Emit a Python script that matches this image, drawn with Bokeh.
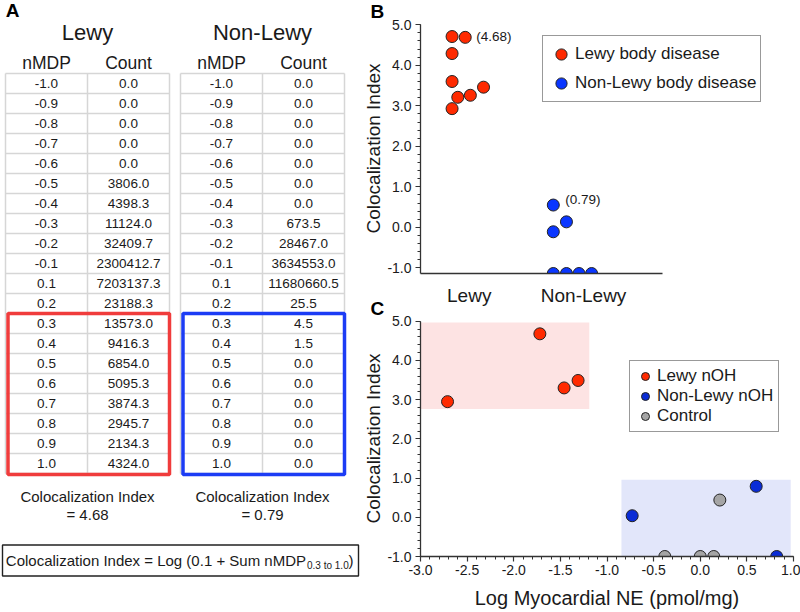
from bokeh.plotting import figure
from bokeh.models import Range1d, SingleIntervalTicker, FixedTicker, NumeralTickFormatter
from bokeh.layouts import row, column
from bokeh.core.properties import value
from bokeh.embed import file_html
from bokeh.resources import INLINE

FONT = "Liberation Sans"
TXT = "#1a1a1a"
AXC = "#333333"

# ---------------- Panel A data ----------------
NMDP = [-1.0, -0.9, -0.8, -0.7, -0.6, -0.5, -0.4, -0.3, -0.2, -0.1,
        0.1, 0.2, 0.3, 0.4, 0.5, 0.6, 0.7, 0.8, 0.9, 1.0]
LEWY_COUNT = [0.0, 0.0, 0.0, 0.0, 0.0, 3806.0, 4398.3, 11124.0, 32409.7, 2300412.7,
              7203137.3, 23188.3, 13573.0, 9416.3, 6854.0, 5095.3, 3874.3, 2945.7, 2134.3, 4324.0]
NONLEWY_COUNT = [0.0, 0.0, 0.0, 0.0, 0.0, 0.0, 0.0, 673.5, 28467.0, 3634553.0,
                 11680660.5, 25.5, 4.5, 1.5, 0.0, 0.0, 0.0, 0.0, 0.0, 0.0]
TABLE_NAMES = ["Lewy", "Non-Lewy"]
TABLE_CI = [4.68, 0.79]
SUM_FROM = 0.3
FORMULA_MAIN = "Colocalization Index = Log (0.1 + Sum nMDP"
FORMULA_SUB = "0.3 to 1.0"

# ---------------- Panel B data ----------------
B_GROUPS = ["Lewy", "Non-Lewy"]
B_LEWY_X = [0.85, 0.965, 0.85, 0.85, 0.90, 1.01, 1.125, 0.85]
B_LEWY_Y = [4.71, 4.69, 4.29, 3.60, 3.21, 3.26, 3.46, 2.93]
B_NONLEWY_X = [1.735, 1.85, 1.735, 1.735, 1.85, 1.96, 2.07]
B_NONLEWY_Y = [0.55, 0.135, -0.11, -1.14, -1.14, -1.14, -1.14]
B_LABELLED = [1, 0]  # index of annotated point in each group

# ---------------- Panel C data ----------------
C_LEWY_X = [-2.71, -1.72, -1.46, -1.31]
C_LEWY_Y = [2.95, 4.68, 3.30, 3.49]
C_NONLEWY_X = [-0.73, 0.60, 0.82]
C_NONLEWY_Y = [0.04, 0.79, -1.0]
C_CONTROL_X = [-0.38, 0.0, 0.145, 0.21]
C_CONTROL_Y = [-1.0, -1.0, -1.0, 0.44]
C_ZONE_LEWY = dict(left=-3.0, right=-1.19, bottom=2.76, top=4.97)
C_ZONE_NONLEWY = dict(left=-0.845, right=0.97, bottom=-1.0, top=0.96)

RED = "#ff2a00"
BLUE_B = "#0a36ff"
BLUE_C = "#0a2cd6"
GRAY = "#a5a5a5"
EDGE = "#222222"
PINK_ZONE = "#fde3e3"
BLUE_ZONE = "#e2e6fa"

# ======================= Panel A =======================
WA = 360
pa = figure(width=WA, height=612, x_range=Range1d(0, WA), y_range=Range1d(612, 0),
            x_axis_type=None, y_axis_type=None, toolbar_location=None,
            output_backend="svg", min_border=0, outline_line_color=None)

TOP, RH = 73.0, 20.0
LEFTS = [5.0, 180.0]
WID, SPLIT = 164.0, 82.0
GRIDC = "#d6d6d6"
BOX_COLORS = ["#f03c3c", "#1c3cf5"]
n = len(NMDP)
i0 = NMDP.index(SUM_FROM)

for t, (name, counts, ci) in enumerate(zip(TABLE_NAMES, [LEWY_COUNT, NONLEWY_COUNT], TABLE_CI)):
    L = LEFTS[t]
    M = L + SPLIT
    R = L + WID
    ys = [TOP + i * RH for i in range(n + 1)]
    pa.segment(x0=[L] * (n + 1), x1=[R] * (n + 1), y0=ys, y1=ys, line_color=GRIDC, line_width=1.5)
    pa.segment(x0=[L, M, R], x1=[L, M, R], y0=[TOP] * 3, y1=[TOP + n * RH] * 3,
               line_color=GRIDC, line_width=1.5)
    yc = [TOP + (i + 0.5) * RH for i in range(n)]
    pa.text(x=[(L + M) / 2] * n, y=yc, text=[f"{v:.1f}" for v in NMDP],
            text_align="center", text_baseline="middle", text_font=value(FONT),
            text_font_size="13.5px", text_color=TXT)
    pa.text(x=[(M + R) / 2] * n, y=yc, text=[f"{v:.1f}" for v in counts],
            text_align="center", text_baseline="middle", text_font=value(FONT),
            text_font_size="13.5px", text_color=TXT)
    pa.quad(left=[L + 2.5], right=[R], top=[TOP + i0 * RH], bottom=[TOP + n * RH + 1],
            fill_color=None, line_color=BOX_COLORS[t], line_width=3.5)
    pa.text(x=[(L + R) / 2], y=[32], text=[name], text_align="center", text_baseline="middle",
            text_font=value(FONT), text_font_size="22px", text_color=TXT)
    pa.text(x=[(L + M) / 2, (M + R) / 2], y=[62, 62], text=["nMDP", "Count"],
            text_align="center", text_baseline="middle",
            text_font=value(FONT), text_font_size="17.5px", text_color=TXT)
    pa.text(x=[(L + R) / 2, (L + R) / 2], y=[496, 514],
            text=["Colocalization Index", f"= {ci:.2f}"],
            text_align="center", text_baseline="middle",
            text_font=value(FONT), text_font_size="15px", text_color=TXT)

pa.quad(left=[2], right=[358], top=[544.5], bottom=[575.5], fill_color=None,
        line_color="#222222", line_width=1.4)
pa.text(x=[305.5], y=[560], text=[FORMULA_MAIN], text_align="right", text_baseline="middle",
        text_font=value(FONT), text_font_size="15px", text_color=TXT)
pa.text(x=[306.5], y=[564.5], text=[FORMULA_SUB], text_align="left", text_baseline="middle",
        text_font=value(FONT), text_font_size="10px", text_color=TXT)
pa.text(x=[348], y=[560], text=[")"], text_align="left", text_baseline="middle",
        text_font=value(FONT), text_font_size="15px", text_color=TXT)
pa.text(x=[12], y=[10], text=["A"], text_align="center", text_baseline="middle",
        text_font=value(FONT), text_font_size="19px", text_font_style="bold", text_color="#000000")


def style_axis(ax, label_size="14px"):
    ax.axis_line_color = AXC
    ax.axis_line_width = 1.3
    ax.major_tick_line_color = AXC
    ax.minor_tick_line_color = AXC
    ax.major_tick_line_width = 1.2
    ax.minor_tick_line_width = 1
    ax.major_tick_out = 5
    ax.major_tick_in = 0
    ax.minor_tick_out = 3
    ax.minor_tick_in = 0
    ax.major_label_text_font = FONT
    ax.major_label_text_font_size = label_size
    ax.major_label_text_color = TXT
    ax.axis_label_text_font = FONT
    ax.axis_label_text_font_style = "normal"
    ax.axis_label_text_font_size = "19px"
    ax.axis_label_text_color = TXT


def style_title(p, letter):
    p.title.text = letter
    p.title.align = "left"
    p.title.offset = -50
    p.title.vertical_align = "top"
    p.title.standoff = 0
    p.title.text_font = FONT
    p.title.text_font_size = "19px"
    p.title.text_font_style = "bold"
    p.title.text_color = "#000000"


WR = 800 - WA

# ======================= Panel B =======================
pb = figure(width=WR, height=313, x_range=Range1d(0.574, 3.835), y_range=Range1d(-1.14, 5.032),
            toolbar_location=None, output_backend="svg", title="B",
            min_border_left=60, min_border_right=5, min_border_top=22, min_border_bottom=40,
            outline_line_color=None)
style_title(pb, "B")
pb.grid.visible = False
style_axis(pb.yaxis[0])
style_axis(pb.xaxis[0], label_size="19px")
pb.yaxis.ticker = SingleIntervalTicker(interval=1, num_minor_ticks=5)
pb.yaxis.formatter = NumeralTickFormatter(format="0.0")
pb.yaxis.bounds = (-1.14, 5.0)
pb.yaxis.axis_label = "Colocalization Index"
pb.yaxis.axis_label_standoff = 0
pb.yaxis.major_label_standoff = 4
pb.xaxis.ticker = FixedTicker(ticks=[1, 2])
pb.xaxis.major_label_overrides = {1: B_GROUPS[0], 2: B_GROUPS[1]}
pb.xaxis.major_tick_out = 0
pb.xaxis.minor_tick_line_color = None
pb.xaxis.major_tick_line_color = None
pb.xaxis.major_label_standoff = 11
pb.xaxis.bounds = (0.574, 2.69)

pb.scatter(B_LEWY_X, B_LEWY_Y, size=12, fill_color=RED, line_color=EDGE, line_width=1,
           legend_label="Lewy body disease")
pb.scatter(B_NONLEWY_X, B_NONLEWY_Y, size=12, fill_color=BLUE_B, line_color=EDGE, line_width=1,
           legend_label="Non-Lewy body disease")
pb.text(x=[B_LEWY_X[B_LABELLED[0]]], y=[B_LEWY_Y[B_LABELLED[0]]], text=[f"({TABLE_CI[0]:.2f})"],
        x_offset=11, y_offset=-1, text_align="left", text_baseline="middle",
        text_font=value(FONT), text_font_size="13.5px", text_color=TXT)
pb.text(x=[B_NONLEWY_X[B_LABELLED[1]]], y=[B_NONLEWY_Y[B_LABELLED[1]]], text=[f"({TABLE_CI[1]:.2f})"],
        x_offset=12, y_offset=-6, text_align="left", text_baseline="middle",
        text_font=value(FONT), text_font_size="13.5px", text_color=TXT)

legb = pb.legend[0]
legb.location = (122, 171)
legb.label_text_font = FONT
legb.label_text_font_size = "17px"
legb.label_text_color = TXT
legb.glyph_width = 28
legb.glyph_height = 28
legb.label_height = 20
legb.spacing = 1
legb.padding = 4
legb.label_standoff = 0
legb.margin = 0
legb.border_line_color = "#333333"
legb.border_line_width = 1.5
legb.background_fill_alpha = 1

# ======================= Panel C =======================
pc = figure(width=WR, height=315, x_range=Range1d(-3.0, 1.0), y_range=Range1d(-1.0, 5.02),
            toolbar_location=None, output_backend="svg", title="C",
            min_border_left=60, min_border_right=7, min_border_top=23, min_border_bottom=56,
            outline_line_color=None, border_fill_alpha=0)
style_title(pc, "C")
pc.margin = (-16, 0, 0, 0)
pc.grid.visible = False
style_axis(pc.yaxis[0])
style_axis(pc.xaxis[0])
pc.yaxis.ticker = SingleIntervalTicker(interval=1, num_minor_ticks=5)
pc.yaxis.formatter = NumeralTickFormatter(format="0.0")
pc.yaxis.bounds = (-1.0, 5.0)
pc.yaxis.axis_label = "Colocalization Index"
pc.yaxis.axis_label_standoff = 0
pc.yaxis.major_label_standoff = 4
pc.xaxis.ticker = SingleIntervalTicker(interval=0.5, num_minor_ticks=5)
pc.xaxis.formatter = NumeralTickFormatter(format="0.0")
pc.xaxis.axis_label = "Log Myocardial NE (pmol/mg)"
pc.xaxis.axis_label_text_font_size = "20px"
pc.xaxis.major_label_standoff = 3
pc.xaxis.axis_label_standoff = 9

pc.quad(left=[C_ZONE_LEWY["left"]], right=[C_ZONE_LEWY["right"]],
        bottom=[C_ZONE_LEWY["bottom"]], top=[C_ZONE_LEWY["top"]],
        fill_color=PINK_ZONE, line_color=None)
pc.quad(left=[C_ZONE_NONLEWY["left"]], right=[C_ZONE_NONLEWY["right"]],
        bottom=[C_ZONE_NONLEWY["bottom"]], top=[C_ZONE_NONLEWY["top"]],
        fill_color=BLUE_ZONE, line_color=None)
pc.scatter(C_LEWY_X, C_LEWY_Y, size=12, fill_color=RED, line_color=EDGE, line_width=1,
           legend_label="Lewy nOH")
pc.scatter(C_NONLEWY_X, C_NONLEWY_Y, size=12, fill_color=BLUE_C, line_color=EDGE, line_width=1,
           legend_label="Non-Lewy nOH")
pc.scatter(C_CONTROL_X, C_CONTROL_Y, size=12, fill_color=GRAY, line_color=EDGE, line_width=1,
           legend_label="Control")

legc = pc.legend[0]
legc.location = (209, 124)
legc.label_text_font = FONT
legc.label_text_font_size = "17px"
legc.label_text_color = TXT
legc.glyph_width = 20
legc.glyph_height = 20
legc.label_height = 20
legc.spacing = 0
legc.padding = 5
legc.label_standoff = 2
legc.margin = 0
legc.border_line_color = "#333333"
legc.border_line_width = 1.5
legc.background_fill_alpha = 1

root = row(pa, column(pb, pc))

open("out.html", "w").write(file_html(root, INLINE))
